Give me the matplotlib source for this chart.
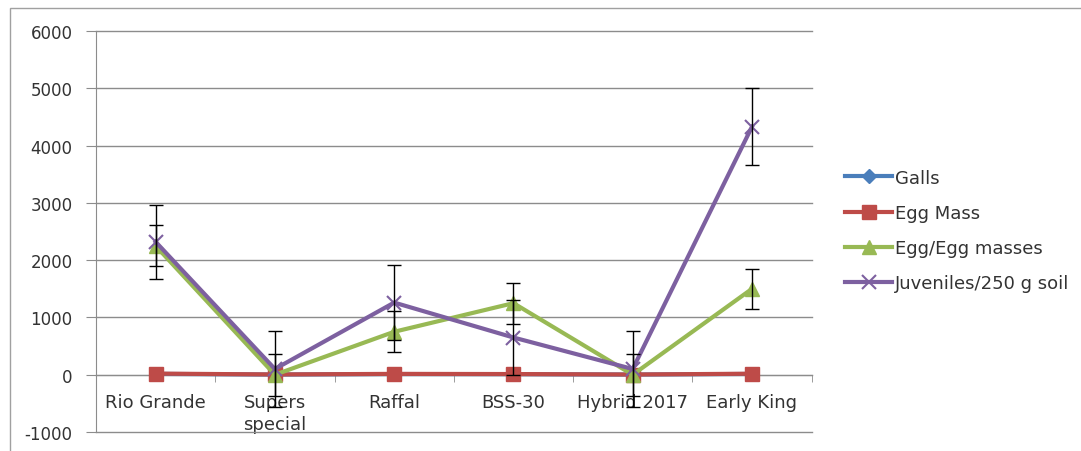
import matplotlib
matplotlib.use("Agg")
import matplotlib.pyplot as plt
from matplotlib.patches import Rectangle

plt.rcParams['font.family'] = ['DejaVu Sans']
plt.rcParams['axes.unicode_minus'] = False

cultivars = ['Rio Grande', 'Supers\nspecial', 'Raffal', 'BSS-30', 'Hybrid 2017', 'Early King']
galls = [15, 3, 12, 10, 3, 14]
egg_mass = [20, 5, 15, 12, 4, 18]
eggs = [2250, 0, 750, 1250, 0, 1500]
eggs_err = [360, 370, 360, 360, 370, 350]
juveniles = [2320, 100, 1260, 650, 100, 4330]
juveniles_err = [650, 660, 660, 660, 660, 670]

fig = plt.figure(figsize=(10.81, 4.52), dpi=100)
ax = fig.add_axes([0.0888, 0.042, 0.662, 0.887])
# chart-area border (right and bottom edges fall outside the image)
fig.patches.append(Rectangle((0.009, -0.01), 1.1, 0.99, transform=fig.transFigure,
                             fill=False, edgecolor='#a0a0a0', lw=1))

x = list(range(len(cultivars)))

ax.errorbar(x, eggs, yerr=eggs_err, fmt='none', ecolor='black', elinewidth=1,
            capsize=5, capthick=1, zorder=4)
ax.errorbar(x, juveniles, yerr=juveniles_err, fmt='none', ecolor='black', elinewidth=1,
            capsize=5, capthick=1, zorder=4)

ax.plot(x, galls, color='#4a7ebb', lw=3, marker='D', ms=7, label='Galls', zorder=3)
ax.plot(x, egg_mass, color='#be4b48', lw=3, marker='s', ms=10, label='Egg Mass', zorder=3)
ax.plot(x, eggs, color='#98b954', lw=3, marker='^', ms=10, label='Egg/Egg masses', zorder=3)
ax.plot(x, juveniles, color='#7d60a0', lw=3, marker='x', ms=10, mew=1.5,
        label='Juveniles/250 g soil', zorder=3)

ax.set_xlim(-0.5, 5.5)
ax.set_ylim(-1000, 6000)
ax.set_yticks(range(-1000, 6001, 1000))
ax.yaxis.grid(True, color='#8c8c8c', lw=1)
ax.set_axisbelow(True)
for gl in ax.get_ygridlines():
    gl.set_clip_on(False)

for s in ['top', 'right']:
    ax.spines[s].set_visible(False)
ax.spines['left'].set_color('#8c8c8c')
ax.spines['bottom'].set_position(('data', 0))
ax.spines['bottom'].set_color('#8c8c8c')

ax.set_xticks(x)
ax.set_xticklabels(cultivars, fontsize=13, color='#333333', linespacing=1.3)
ax.set_xticks([i + 0.5 for i in range(-1, len(cultivars))], minor=True)
ax.tick_params(axis='x', which='major', length=0, pad=13)
ax.tick_params(axis='x', which='minor', length=5, color='#8c8c8c', direction='out')
ax.tick_params(axis='y', length=7, color='#8c8c8c', labelsize=12, labelcolor='#333333', pad=10)

fig.legend(loc='center left', bbox_to_anchor=(0.782, 0.488), frameon=False,
           fontsize=13, labelspacing=0.95, handlelength=2.6, handletextpad=0.17,
           borderpad=0, borderaxespad=0, labelcolor='#333333')

fig.savefig('out.png', dpi=100)
